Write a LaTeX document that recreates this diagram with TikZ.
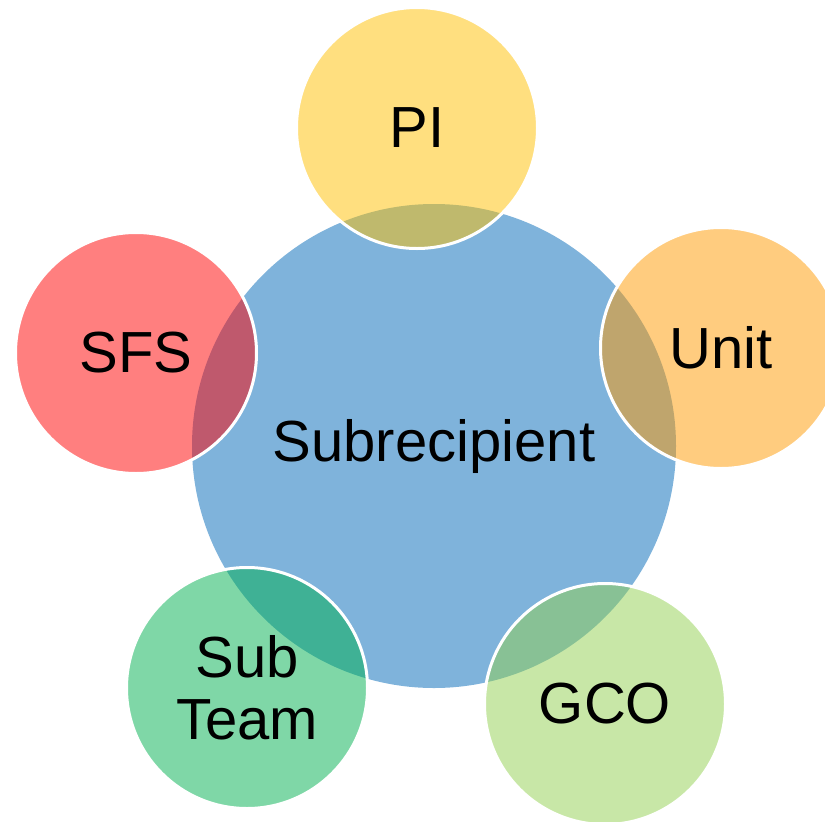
\documentclass[tikz,border=0pt]{standalone}
\usepackage{fontspec}
\setmainfont{Liberation Sans}
\definecolor{hubblue}{HTML}{7FB3DB}
\definecolor{piyellow}{HTML}{FFC000}
\definecolor{unitorange}{HTML}{FF9900}
\definecolor{sfsred}{HTML}{FF0000}
\definecolor{subgreen}{HTML}{00B050}
\definecolor{gcogreen}{HTML}{92D050}
\begin{document}
\begin{tikzpicture}[x=1pt,y=-1pt,
  lbl/.style={font=\fontsize{58}{62}\selectfont, text=black, align=center},
  hub/.style={lbl, circle, fill=hubblue, minimum size=484pt, inner sep=0pt},
  sat/.style={lbl, circle, draw=white, line width=3pt, fill opacity=0.5, text opacity=1, minimum size=241pt, inner sep=0pt}]
\clip (0,0) rectangle (825,822);
\node[hub] (hub) at (434,446) {Subrecipient};
\node[sat, fill=piyellow] (pi) at (417,128) {PI};
\node[sat, fill=unitorange] (unit) at (721,348) {Unit};
\node[sat, fill=sfsred] (sfs) at (136,353) {SFS};
\node[sat, fill=subgreen] (sub) at (247,688) {Sub\\Team};
\node[sat, fill=gcogreen] (gco) at (605,704) {GCO};
\end{tikzpicture}
\end{document}
